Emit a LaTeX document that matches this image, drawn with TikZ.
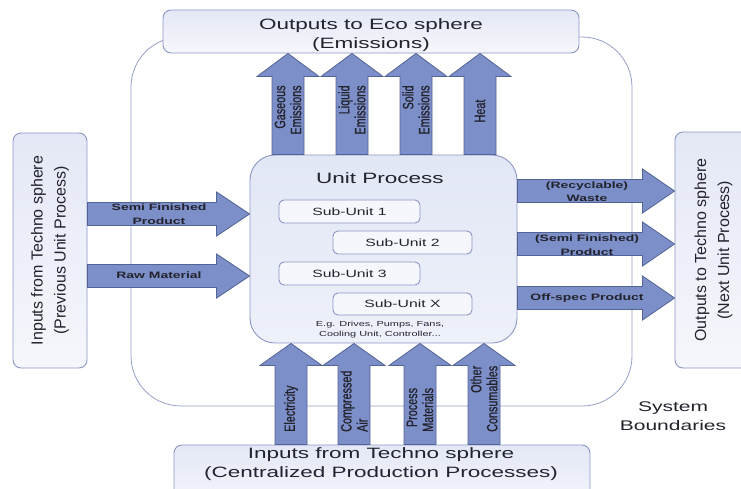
\documentclass[tikz,border=0pt]{standalone}
\usepackage{fontspec}
\setmainfont{Liberation Sans}
\newfontfamily\widesans[FakeStretch=1.5]{Liberation Sans}
\newfontfamily\tallsans[FakeStretch=0.72,FakeBold=0.8]{Liberation Sans}
\usetikzlibrary{calc}

\definecolor{arrowfill}{RGB}{124,143,200}
\definecolor{arrowline}{RGB}{82,99,150}
\definecolor{boxline}{RGB}{140,150,196}
\definecolor{boxtop}{RGB}{228,232,246}
\definecolor{boxbottom}{RGB}{246,247,252}
\definecolor{unittop}{RGB}{226,231,246}
\definecolor{unitbottom}{RGB}{238,241,250}
\definecolor{ink}{RGB}{35,35,45}
\definecolor{sysline}{RGB}{150,158,198}

\tikzset{
  box/.style={draw=boxline, line width=0.9pt, rounded corners=8pt,
    top color=boxtop, bottom color=boxbottom, inner sep=0pt, text=ink},
  sysbound/.style={draw=sysline, line width=0.8pt, rounded corners=50pt, inner sep=0pt},
  unitbox/.style={draw=boxline, line width=0.9pt, rounded corners=25pt,
    top color=unittop, bottom color=unitbottom, inner sep=0pt},
  subbox/.style={draw=boxline, line width=0.9pt, rounded corners=5pt, fill=boxbottom,
    minimum height=23pt, inner sep=0pt, text=ink,
    font=\widesans\fontsize{10.5}{12}\selectfont},
  bigtext/.style={align=center, inner sep=0pt, text=ink,
    font=\widesans\fontsize{15}{18.5}\selectfont},
  sidetext/.style={align=center, text=ink, font=\fontsize{16}{23}\selectfont},
  vlabel/.style={rotate=90, inner sep=0pt, text=ink, align=right,
    font=\tallsans\fontsize{15}{16}\selectfont},
  hlabel/.style={align=center, inner sep=0pt, text=ink,
    font=\widesans\bfseries\fontsize{9.3}{13.5}\selectfont},
  % block arrow from start to target: shaft half width, head half width, head length
  flow/.style n args={3}{fill=arrowfill, draw=arrowline, line width=0.8pt, line join=miter,
    to path={let \p1=(\tikztostart), \p2=(\tikztotarget),
      \n1={atan2(\y2-\y1,\x2-\x1)}, \n2={veclen(\x2-\x1,\y2-\y1)} in
      ([shift={(\p1)},rotate=\n1]0pt,-#1)
      -- ([shift={(\p1)},rotate=\n1]\n2-#3,-#1)
      -- ([shift={(\p1)},rotate=\n1]\n2-#3,-#2)
      -- ([shift={(\p1)},rotate=\n1]\n2,0pt)
      -- ([shift={(\p1)},rotate=\n1]\n2-#3,#2)
      -- ([shift={(\p1)},rotate=\n1]\n2-#3,#1)
      -- ([shift={(\p1)},rotate=\n1]0pt,#1) -- cycle}},
}

\begin{document}
\begin{tikzpicture}[x=1pt,y=-1pt]
\useasboundingbox (0,0) rectangle (741,488);

% system boundary
\node[sysbound, minimum width=501pt, minimum height=369pt] (sys) at (381.5,221.5) {};
\node[align=center, text=ink, font=\widesans\fontsize{14}{19}\selectfont] (sysl) at (673,416.5) {System\\Boundaries};

% spheres around the unit process
\node[box, minimum width=416pt, minimum height=43pt] (eco) at (371,31.5) {};
\node[bigtext] (ecot) at (371,35) {Outputs to Eco sphere\\(Emissions)};
\node[box, minimum width=416pt, minimum height=66pt] (cpp) at (382,478) {};
\node[bigtext, font=\widesans\fontsize{15}{19}\selectfont] (cppt) at (381,464) {Inputs from Techno sphere\\(Centralized Production Processes)};
\node[box, sidetext, rotate=90, minimum width=235pt, minimum height=74pt] (prev) at (50,250.5) {Inputs from Techno sphere\\(Previous Unit Process)};
\node[box, sidetext, rotate=90, minimum width=236pt, minimum height=77pt] (next) at (713.5,250) {Outputs to Techno sphere\\(Next Unit Process)};

% unit process and its sub-units
\node[unitbox, minimum width=267pt, minimum height=188pt] (unit) at (383.5,249) {};
\node[inner sep=0pt, text=ink, font=\widesans\fontsize{15}{18}\selectfont] (ut) at (380,178) {Unit Process};
\node[subbox, minimum width=141pt] (su1) at (349.5,211.5) {Sub-Unit 1};
\node[subbox, minimum width=139pt] (su2) at (402.5,242.5) {Sub-Unit 2};
\node[subbox, minimum width=141pt] (su3) at (349.5,273.5) {Sub-Unit 3};
\node[subbox, minimum width=139pt, minimum height=22pt] (sux) at (402.5,304) {Sub-Unit X};
\node[align=center, inner sep=0pt, text=ink, font=\widesans\fontsize{7.3}{9.5}\selectfont] (egt) at (380,329.5) {E.g. Drives, Pumps, Fans,\\Cooling Unit, Controller...};

% emissions leaving upwards
\foreach \cx in {288,352,416,480}
  \draw[flow={16pt}{31pt}{23pt}] (unit.north -| \cx,0) to (eco.south -| \cx,0);
\node[vlabel] (l1) at (288,110) {Gaseous\\Emissions};
\node[vlabel] (l2) at (352,110) {Liquid\\Emissions};
\node[vlabel] (l3) at (416,110) {Solid\\Emissions};
\node[vlabel] (l4) at (480,111) {Heat};

% central supplies entering from below
\foreach \cx in {291,354,420,484}
  \draw[flow={16pt}{31pt}{22pt}] (cpp.north -| \cx,0) to (unit.south -| \cx,0);
\node[vlabel, anchor=west] (b1) at (291,432) {Electricity};
\node[vlabel, anchor=west, align=left] (b2) at (354,432) {Compressed\\Air};
\node[vlabel, anchor=west] (b3) at (420,432) {Process\\Materials};
\node[vlabel, anchor=west] (b4) at (484,432) {Other\\Consumables};

% inputs from the previous unit process
\foreach \cy in {214,276}
  \draw[flow={11.5pt}{22pt}{33pt}] (prev.south |- 0,\cy) to (unit.west |- 0,\cy);
\node[hlabel] (i1) at (159,214) {Semi Finished\\Product};
\node[hlabel] (i2) at (159,275) {Raw Material};

% outputs to the next unit process
\foreach \cy in {191,244,298}
  \draw[flow={11.5pt}{22pt}{32pt}] (unit.east |- 0,\cy) to (next.north |- 0,\cy);
\node[hlabel] (o1) at (587,191.5) {(Recyclable)\\Waste};
\node[hlabel] (o2) at (587,245) {(Semi Finished)\\Product};
\node[hlabel] (o3) at (587,298) {Off-spec Product};
\end{tikzpicture}
\end{document}
